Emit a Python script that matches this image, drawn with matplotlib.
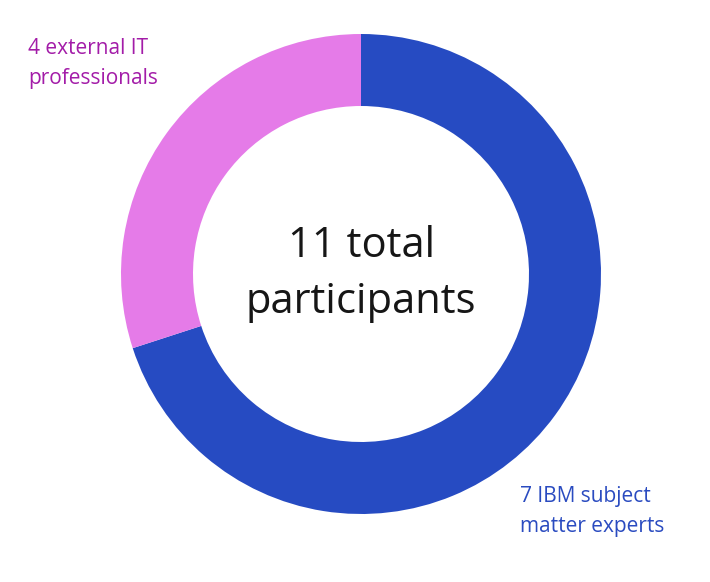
import matplotlib
matplotlib.use("Agg")
import matplotlib.pyplot as plt

labels = ["7 IBM subject\nmatter experts", "4 external IT\nprofessionals"]
shares = [70, 30]  # arc shares as drawn in the reference
colors = ["#264bc2", "#e57be8"]
label_colors = ["#2a4bc0", "#a31ca8"]
center_text = "11 total\nparticipants"

W, H = 710, 582
fig = plt.figure(figsize=(W/100, H/100), dpi=100)
cx, cy, R = 361, 274, 240
ax = fig.add_axes([(cx-R)/W, (H-cy-R)/H, 2*R/W, 2*R/H])
ax.pie(shares, colors=colors, startangle=90, counterclock=False, radius=1,
       wedgeprops=dict(width=72/240, linewidth=0))
ax.set_xlim(-1, 1); ax.set_ylim(-1, 1); ax.set_aspect("equal")
ax.axis("off")
ax.text(0, 0, center_text, ha="center", va="center", fontsize=30,
        family="Open Sans", color="#161616", linespacing=1.45)
fig.text(28/W, 1-38/H, labels[1], ha="left", va="top", fontsize=15,
         family="Open Sans", color=label_colors[1], linespacing=1.55)
fig.text(520/W, 1-486/H, labels[0], ha="left", va="top", fontsize=15,
         family="Open Sans", color=label_colors[0], linespacing=1.55)
fig.savefig("out.png", dpi=100)
